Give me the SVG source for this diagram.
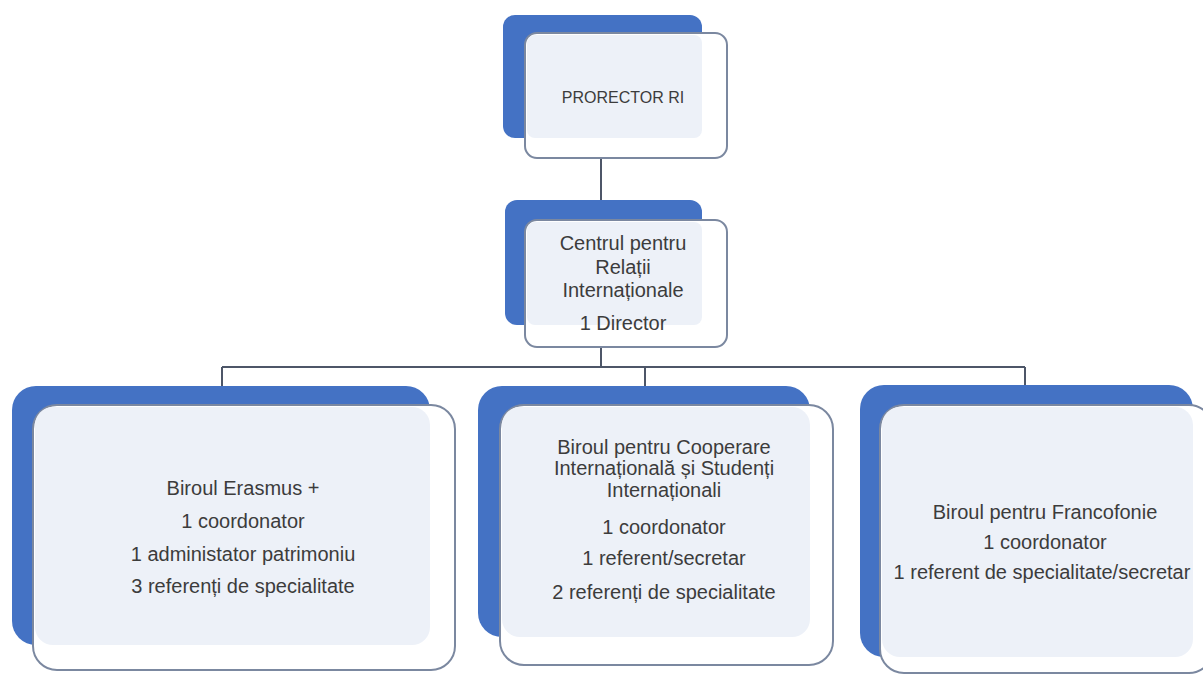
<svg xmlns="http://www.w3.org/2000/svg" width="1203" height="675" viewBox="0 0 1203 675">
<style>
.back{fill:#4472C4}
.front{fill:#ffffff;stroke:#7b88a0;stroke-width:2}
.inner{fill:#edf1f8}
.t{font-family:'Liberation Sans',Arial,sans-serif;font-size:20px;fill:#3c3c3c;text-anchor:middle}
.conn{stroke:#4d5668;stroke-width:2;fill:none}
</style>
<rect width="1203" height="675" fill="#ffffff"/>
<g id="connectors">
<path class="conn" d="M601 158 V220"/>
<path class="conn" d="M601 347 V367"/>
<path class="conn" d="M222 367 H1025"/>
<path class="conn" d="M222 367 V386"/>
<path class="conn" d="M645 367 V386"/>
<path class="conn" d="M1025 367 V385"/>
</g>
<g id="node-prorector">
<rect class="back" x="503" y="15" width="199" height="123" rx="12"/>
<rect class="front" x="525" y="33" width="202" height="125" rx="12"/>
<rect class="inner" x="527" y="35" width="175" height="103" rx="8"/>
<text class="t" x="623" y="103" style="font-size:16px">PRORECTOR RI</text>
</g>
<g id="node-centrul">
<rect class="back" x="505" y="200" width="197" height="125" rx="12"/>
<rect class="front" x="525" y="220" width="202" height="127" rx="12"/>
<rect class="inner" x="527" y="222" width="175" height="103" rx="8"/>
<text class="t" x="623" y="250">Centrul pentru</text>
<text class="t" x="623" y="274">Relații</text>
<text class="t" x="623" y="297">Internaționale</text>
<text class="t" x="623" y="330">1 Director</text>
</g>
<g id="node-erasmus">
<rect class="back" x="12" y="386" width="418" height="259" rx="24"/>
<rect class="front" x="33" y="405" width="422" height="265" rx="24"/>
<rect class="inner" x="35" y="407" width="395" height="238" rx="18"/>
<text class="t" x="243" y="495">Biroul Erasmus +</text>
<text class="t" x="243" y="528">1 coordonator</text>
<text class="t" x="243" y="561">1 administator patrimoniu</text>
<text class="t" x="243" y="593">3 referenți de specialitate</text>
</g>
<g id="node-cooperare">
<rect class="back" x="478" y="386" width="332" height="251" rx="24"/>
<rect class="front" x="500" y="405" width="333" height="260" rx="24"/>
<rect class="inner" x="502" y="407" width="308" height="230" rx="18"/>
<text class="t" x="664" y="454">Biroul pentru Cooperare</text>
<text class="t" x="664" y="475">Internațională și Studenți</text>
<text class="t" x="664" y="497">Internaționali</text>
<text class="t" x="664" y="534">1 coordonator</text>
<text class="t" x="664" y="565">1 referent/secretar</text>
<text class="t" x="664" y="599">2 referenți de specialitate</text>
</g>
<g id="node-francofonie">
<rect class="back" x="860" y="385" width="333" height="272" rx="24"/>
<rect class="front" x="880" y="405" width="333" height="268" rx="24"/>
<rect class="inner" x="882" y="407" width="311" height="250" rx="18"/>
<text class="t" x="1045" y="519">Biroul pentru Francofonie</text>
<text class="t" x="1045" y="549">1 coordonator</text>
<text class="t" x="1042" y="579">1 referent de specialitate/secretar</text>
</g>
</svg>
